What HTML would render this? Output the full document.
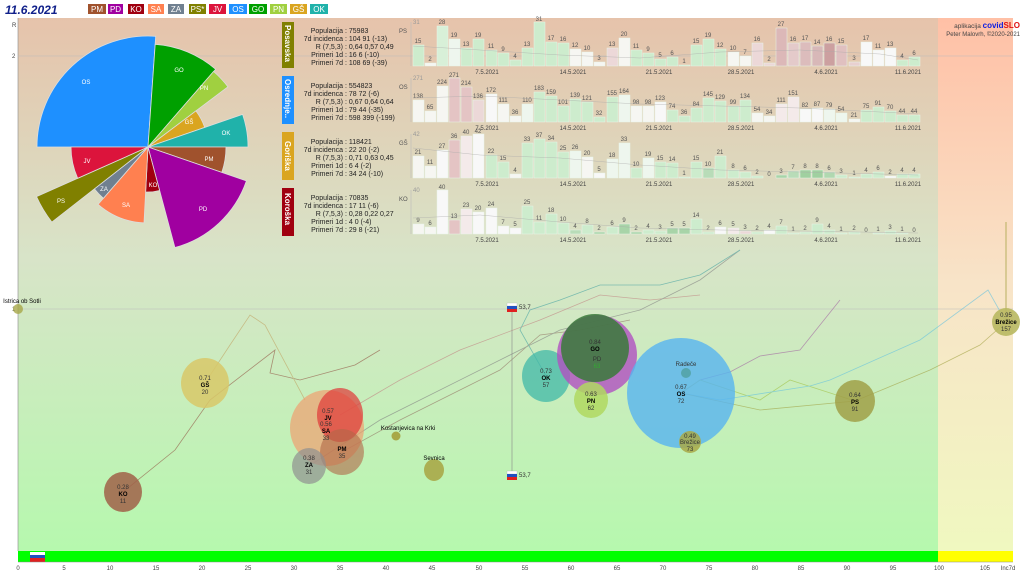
<!DOCTYPE html>
<html><head><meta charset="utf-8"><style>
html,body{margin:0;padding:0;background:#fff;}
svg{display:block;font-family:"Liberation Sans",sans-serif;}
.st{font-size:7px;fill:#222;}
.bl{font-size:6px;fill:#555;text-anchor:middle;}
.dt{font-size:6px;fill:#444;text-anchor:middle;}
.g rect{fill:#cdeccd;stroke:#e8f4e8;stroke-width:.5}
.lb{font-size:6px;fill:#333;text-anchor:middle;}
.ax{font-size:6px;fill:#444;text-anchor:middle;}
</style></head><body>
<svg width="1024" height="576" viewBox="0 0 1024 576" xmlns="http://www.w3.org/2000/svg">
<defs>
<linearGradient id="bg" x1="0" y1="0" x2="0" y2="1">
<stop offset="0" stop-color="#e6c3ab"/><stop offset="0.45" stop-color="#d8e4c8"/><stop offset="1" stop-color="#b6f8ae"/></linearGradient>
<linearGradient id="bgr" x1="0" y1="0" x2="0" y2="1">
<stop offset="0" stop-color="#ffc0a6"/><stop offset="0.5" stop-color="#f8e4c8"/><stop offset="1" stop-color="#f0f8c0"/></linearGradient>
</defs>
<rect x="0" y="0" width="1024" height="576" fill="#fff"/>
<rect x="18" y="18" width="920" height="533" fill="url(#bg)"/>
<rect x="938" y="18" width="75" height="533" fill="url(#bgr)"/>
<line x1="18" y1="18" x2="18" y2="551" stroke="#888" stroke-width=".6"/>
<line x1="18" y1="56" x2="1013" y2="56" stroke="#bbb" stroke-width=".5"/>
<line x1="18" y1="309" x2="1013" y2="309" stroke="#bbb" stroke-width=".6"/>
<text x="12" y="27" font-size="6" fill="#444">R</text>
<text x="12" y="58" font-size="6" fill="#444">2</text>
<text x="12" y="311" font-size="6" fill="#444">1</text>

<!-- header -->
<text x="5" y="14" font-size="12" font-weight="bold" font-style="italic" fill="#10208a">11.6.2021</text>
<g font-size="8" fill="#fff" text-anchor="middle">
<rect x="88" y="4" width="18" height="10" fill="#a0522d"/><text x="97" y="12">PM</text>
<rect x="108" y="4" width="15" height="10" fill="#a000a0"/><text x="115.5" y="12">PD</text>
<rect x="128" y="4" width="16" height="10" fill="#a00010"/><text x="136" y="12">KO</text>
<rect x="148" y="4" width="16" height="10" fill="#ff8050"/><text x="156" y="12">SA</text>
<rect x="168" y="4" width="16" height="10" fill="#708090"/><text x="176" y="12">ZA</text>
<rect x="189" y="4" width="17" height="10" fill="#808000"/><text x="197.5" y="12">PS*</text>
<rect x="209" y="4" width="17" height="10" fill="#dc143c"/><text x="217.5" y="12">JV</text>
<rect x="229" y="4" width="18" height="10" fill="#1e90ff"/><text x="238" y="12">OS</text>
<rect x="249" y="4" width="18" height="10" fill="#00a000"/><text x="258" y="12">GO</text>
<rect x="270" y="4" width="17" height="10" fill="#a0d040"/><text x="278.5" y="12">PN</text>
<rect x="290" y="4" width="17" height="10" fill="#daa520"/><text x="298.5" y="12">GŠ</text>
<rect x="310" y="4" width="18" height="10" fill="#20b2aa"/><text x="319" y="12">OK</text>
</g>

<!-- pie -->
<g stroke="#ddd" stroke-width=".8">
<path d="M148,147 L37,147 A111,111 0 0 1 155.7,36.3 Z" fill="#1e90ff"/>
<path d="M148,147 L155.2,44.3 A103,103 0 0 1 215.6,69.2 Z" fill="#00a000"/>
<path d="M148,147 L213.6,71.5 A100,100 0 0 1 227.9,86.8 Z" fill="#a0d040"/>
<path d="M148,147 L195.9,110.9 A60,60 0 0 1 204.7,127.4 Z" fill="#daa520"/>
<path d="M148,147 L242.6,114.4 A100,100 0 0 1 248,147 Z" fill="#20b2aa"/>
<path d="M148,147 L226,147 A78,78 0 0 1 221.8,172.4 Z" fill="#a0522d"/>
<path d="M148,147 L246.4,180.9 A104,104 0 0 1 174.9,247.5 Z" fill="#a000a0"/>
<path d="M148,147 L159.6,190.5 A45,45 0 0 1 145.6,192 Z" fill="#a00010"/>
<path d="M148,147 L144,222.9 A76,76 0 0 1 98.1,204.4 Z" fill="#ff8050"/>
<path d="M148,147 L103.4,198.3 A68,68 0 0 1 94.4,188.9 Z" fill="#708090"/>
<path d="M148,147 L51.9,222.1 A122,122 0 0 1 36.5,196.6 Z" fill="#808000"/>
<path d="M148,147 L77.7,178.3 A77,77 0 0 1 71,147 Z" fill="#dc143c"/>
</g>
<g font-size="6" fill="#fff" text-anchor="middle">
<text x="86" y="84">OS</text><text x="179" y="72">GO</text><text x="204" y="90">PN</text>
<text x="189" y="124">GŠ</text><text x="226" y="135">OK</text><text x="209" y="161">PM</text>
<text x="203" y="211">PD</text><text x="153" y="187">KO</text><text x="126" y="207">SA</text>
<text x="104" y="191">ZA</text><text x="61" y="203">PS</text><text x="87" y="163">JV</text>
</g>

<!-- region labels -->
<rect x="282" y="22" width="12" height="46" fill="#808000"/>
<rect x="282" y="76" width="12" height="48" fill="#1e90ff"/>
<rect x="282" y="132" width="12" height="48" fill="#daa520"/>
<rect x="282" y="188" width="12" height="48" fill="#a00010"/>
<g font-size="8" font-weight="bold" fill="#fff">
<text transform="translate(285,25) rotate(90)">Posavska</text>
<text transform="translate(285,79) rotate(90)">Osrednje..</text>
<text transform="translate(285,141) rotate(90)">Goriška</text>
<text transform="translate(285,193) rotate(90)">Koroška</text>
</g>
<g class="st">
<g text-anchor="end"><text x="343" y="33">Populacija</text><text x="343" y="41">7d incidenca</text><text x="343" y="49">R (7,5,3)</text><text x="343" y="57">Primeri 1d</text><text x="343" y="65">Primeri 7d</text></g>
<text x="345" y="33">: 75983</text><text x="345" y="41">: 104 91 (-13)</text><text x="345" y="49">: 0,64 0,57 0,49</text><text x="345" y="57">: 16 6 (-10)</text><text x="345" y="65">: 108 69 (-39)</text>
<g text-anchor="end"><text x="343" y="88">Populacija</text><text x="343" y="96">7d incidenca</text><text x="343" y="104">R (7,5,3)</text><text x="343" y="112">Primeri 1d</text><text x="343" y="120">Primeri 7d</text></g>
<text x="345" y="88">: 554823</text><text x="345" y="96">: 78 72 (-6)</text><text x="345" y="104">: 0,67 0,64 0,64</text><text x="345" y="112">: 79 44 (-35)</text><text x="345" y="120">: 598 399 (-199)</text>
<g text-anchor="end"><text x="343" y="144">Populacija</text><text x="343" y="152">7d incidenca</text><text x="343" y="160">R (7,5,3)</text><text x="343" y="168">Primeri 1d</text><text x="343" y="176">Primeri 7d</text></g>
<text x="345" y="144">: 118421</text><text x="345" y="152">: 22 20 (-2)</text><text x="345" y="160">: 0,71 0,63 0,45</text><text x="345" y="168">: 6 4 (-2)</text><text x="345" y="176">: 34 24 (-10)</text>
<g text-anchor="end"><text x="343" y="200">Populacija</text><text x="343" y="208">7d incidenca</text><text x="343" y="216">R (7,5,3)</text><text x="343" y="224">Primeri 1d</text><text x="343" y="232">Primeri 7d</text></g>
<text x="345" y="200">: 70835</text><text x="345" y="208">: 17 11 (-6)</text><text x="345" y="216">: 0,28 0,22 0,27</text><text x="345" y="224">: 4 0 (-4)</text><text x="345" y="232">: 29 8 (-21)</text>
</g>

<!-- bar charts -->
<g font-size="6" fill="#555"><text x="399" y="33">PS</text><text x="399" y="89">OS</text><text x="399" y="145">GŠ</text><text x="399" y="201">KO</text>
<text x="413" y="24" fill="#999">31</text><text x="413" y="80" fill="#999">271</text><text x="413" y="136" fill="#999">42</text><text x="413" y="192" fill="#999">40</text></g>
<g stroke="#bbb" stroke-width=".6"><line x1="411" y1="22" x2="411" y2="66"/><line x1="411" y1="78" x2="411" y2="122"/><line x1="411" y1="134" x2="411" y2="178"/><line x1="411" y1="190" x2="411" y2="234"/></g>
<g class="dt">
<text x="487" y="74">7.5.2021</text><text x="573" y="74">14.5.2021</text><text x="659" y="74">21.5.2021</text><text x="741" y="74">28.5.2021</text><text x="826" y="74">4.6.2021</text><text x="908" y="74">11.6.2021</text>
<text x="487" y="130">7.5.2021</text><text x="573" y="130">14.5.2021</text><text x="659" y="130">21.5.2021</text><text x="741" y="130">28.5.2021</text><text x="826" y="130">4.6.2021</text><text x="908" y="130">11.6.2021</text>
<text x="487" y="186">7.5.2021</text><text x="573" y="186">14.5.2021</text><text x="659" y="186">21.5.2021</text><text x="741" y="186">28.5.2021</text><text x="826" y="186">4.6.2021</text><text x="908" y="186">11.6.2021</text>
<text x="487" y="242">7.5.2021</text><text x="573" y="242">14.5.2021</text><text x="659" y="242">21.5.2021</text><text x="741" y="242">28.5.2021</text><text x="826" y="242">4.6.2021</text><text x="908" y="242">11.6.2021</text>
</g>
<!-- PS row baseline 66 -->
<g class="g">
<rect x="413" y="45" width="11" height="21"/><rect x="425" y="63" width="11" height="3" style="fill:#f6f6f2"/><rect x="437" y="26" width="11" height="40" style="fill:#d8f0d8"/><rect x="449" y="39" width="11" height="27" style="fill:#eef6ee"/><rect x="461" y="48" width="11" height="18"/><rect x="473" y="39" width="11" height="27"/><rect x="486" y="50" width="11" height="16"/><rect x="498" y="53" width="11" height="13"/><rect x="510" y="60" width="11" height="6"/><rect x="522" y="48" width="11" height="18"/><rect x="534" y="22" width="11" height="44"/><rect x="546" y="42" width="11" height="24"/><rect x="558" y="43" width="11" height="23"/><rect x="570" y="49" width="11" height="17" style="fill:#f6f6f2"/><rect x="582" y="52" width="11" height="14" style="fill:#f6f6f2"/><rect x="594" y="62" width="11" height="4" style="fill:#f6f6f2"/><rect x="607" y="48" width="11" height="18" style="fill:#ecd8d8"/><rect x="619" y="38" width="11" height="28" style="fill:#f6f6f2"/><rect x="631" y="50" width="11" height="16"/><rect x="643" y="53" width="11" height="13"/><rect x="655" y="59" width="11" height="7"/><rect x="667" y="57" width="11" height="9"/><rect x="679" y="65" width="11" height="1"/><rect x="691" y="45" width="11" height="21"/><rect x="703" y="39" width="11" height="27"/><rect x="715" y="49" width="11" height="17"/><rect x="728" y="52" width="11" height="14" style="fill:#f6f6f2"/><rect x="740" y="56" width="11" height="10" style="fill:#f6f6f2"/><rect x="752" y="43" width="11" height="23" style="fill:#ecd8d8"/><rect x="764" y="63" width="11" height="3" style="fill:#ecd8d8"/><rect x="776" y="28" width="11" height="38" style="fill:#dcb8b8"/><rect x="788" y="43" width="11" height="23" style="fill:#e4caca"/><rect x="800" y="42" width="11" height="24" style="fill:#dcbcbc"/><rect x="812" y="46" width="11" height="20" style="fill:#d8b8b8"/><rect x="824" y="43" width="11" height="23" style="fill:#cca0a0"/><rect x="836" y="45" width="11" height="21" style="fill:#e0c0c0"/><rect x="849" y="62" width="11" height="4" style="fill:#e8d0d0"/><rect x="861" y="42" width="11" height="24" style="fill:#f8f8f8"/><rect x="873" y="50" width="11" height="16" style="fill:#f8f8f8"/><rect x="885" y="48" width="11" height="18" style="fill:#f8f8f8"/><rect x="897" y="60" width="11" height="6"/><rect x="909" y="57" width="11" height="9"/>
</g>
<g class="bl">
<text x="418" y="43">15</text><text x="430" y="61">2</text><text x="442" y="24">28</text><text x="454" y="37">19</text><text x="466" y="46">13</text><text x="478" y="37">19</text><text x="491" y="48">11</text><text x="503" y="51">9</text><text x="515" y="58">4</text><text x="527" y="46">13</text><text x="539" y="21">31</text><text x="551" y="40">17</text><text x="563" y="41">16</text><text x="575" y="47">12</text><text x="587" y="50">10</text><text x="599" y="60">3</text><text x="612" y="46">13</text><text x="624" y="36">20</text><text x="636" y="48">11</text><text x="648" y="51">9</text><text x="660" y="57">5</text><text x="672" y="55">6</text><text x="684" y="63">1</text><text x="696" y="43">15</text><text x="708" y="37">19</text><text x="720" y="47">12</text><text x="733" y="50">10</text><text x="745" y="54">7</text><text x="757" y="41">16</text><text x="769" y="61">2</text><text x="781" y="26">27</text><text x="793" y="41">16</text><text x="805" y="40">17</text><text x="817" y="44">14</text><text x="829" y="41">16</text><text x="841" y="43">15</text><text x="854" y="60">3</text><text x="866" y="40">17</text><text x="878" y="48">11</text><text x="890" y="46">13</text><text x="902" y="58">4</text><text x="914" y="55">6</text>
</g>
<!-- OS row baseline 122 -->
<g class="g">
<rect x="413" y="100" width="11" height="22" style="fill:#f6f6f2"/><rect x="425" y="111" width="11" height="11" style="fill:#f6f6f2"/><rect x="437" y="86" width="11" height="36" style="fill:#f6f6f2"/><rect x="449" y="78" width="11" height="44" style="fill:#e4c4c4"/><rect x="461" y="87" width="11" height="35" style="fill:#e4c4c4"/><rect x="473" y="100" width="11" height="22" style="fill:#ecd8d8"/><rect x="486" y="94" width="11" height="28" style="fill:#f8f8f8"/><rect x="498" y="104" width="11" height="18" style="fill:#f6f6f2"/><rect x="510" y="116" width="11" height="6" style="fill:#f6f6f2"/><rect x="522" y="104" width="11" height="18" style="fill:#eef6ee"/><rect x="534" y="92" width="11" height="30"/><rect x="546" y="96" width="11" height="26"/><rect x="558" y="106" width="11" height="16"/><rect x="570" y="99" width="11" height="23"/><rect x="582" y="102" width="11" height="20"/><rect x="594" y="117" width="11" height="5"/><rect x="607" y="97" width="11" height="25"/><rect x="619" y="95" width="11" height="27" style="fill:#eef6ee"/><rect x="631" y="106" width="11" height="16" style="fill:#f6f6f2"/><rect x="643" y="106" width="11" height="16" style="fill:#f6f6f2"/><rect x="655" y="102" width="11" height="20" style="fill:#f8f8f8"/><rect x="667" y="110" width="11" height="12"/><rect x="679" y="116" width="11" height="6"/><rect x="691" y="108" width="11" height="14"/><rect x="703" y="98" width="11" height="24"/><rect x="715" y="101" width="11" height="21"/><rect x="728" y="106" width="11" height="16"/><rect x="740" y="100" width="11" height="22"/><rect x="752" y="113" width="11" height="9" style="fill:#f6f6f2"/><rect x="764" y="116" width="11" height="6" style="fill:#f6f6f2"/><rect x="776" y="104" width="11" height="18" style="fill:#f4eaea"/><rect x="788" y="97" width="11" height="25" style="fill:#f4eaea"/><rect x="800" y="109" width="11" height="13" style="fill:#f8f8f8"/><rect x="812" y="108" width="11" height="14" style="fill:#f8f8f8"/><rect x="824" y="109" width="11" height="13" style="fill:#eef6ee"/><rect x="836" y="113" width="11" height="9" style="fill:#eef6ee"/><rect x="849" y="119" width="11" height="3" style="fill:#f6f6f2"/><rect x="861" y="110" width="11" height="12"/><rect x="873" y="107" width="11" height="15"/><rect x="885" y="111" width="11" height="11"/><rect x="897" y="115" width="11" height="7"/><rect x="909" y="115" width="11" height="7"/>
</g>
<g class="bl">
<text x="418" y="98">138</text><text x="430" y="109">65</text><text x="442" y="84">224</text><text x="454" y="77">271</text><text x="466" y="85">214</text><text x="478" y="98">136</text><text x="491" y="92">172</text><text x="503" y="102">111</text><text x="515" y="114">36</text><text x="527" y="102">110</text><text x="539" y="90">183</text><text x="551" y="94">159</text><text x="563" y="104">101</text><text x="575" y="97">139</text><text x="587" y="100">121</text><text x="599" y="115">32</text><text x="612" y="95">155</text><text x="624" y="93">164</text><text x="636" y="104">98</text><text x="648" y="104">98</text><text x="660" y="100">123</text><text x="672" y="108">74</text><text x="684" y="114">36</text><text x="696" y="106">84</text><text x="708" y="96">145</text><text x="720" y="99">129</text><text x="733" y="104">99</text><text x="745" y="98">134</text><text x="757" y="111">54</text><text x="769" y="114">34</text><text x="781" y="102">111</text><text x="793" y="95">151</text><text x="805" y="107">82</text><text x="817" y="106">87</text><text x="829" y="107">79</text><text x="841" y="111">54</text><text x="854" y="117">21</text><text x="866" y="108">75</text><text x="878" y="105">91</text><text x="890" y="109">70</text><text x="902" y="113">44</text><text x="914" y="113">44</text>
</g>
<!-- GS row baseline 178 -->
<g class="g">
<rect x="413" y="156" width="11" height="22" style="fill:#f6f6f2"/><rect x="425" y="166" width="11" height="12" style="fill:#f6f6f2"/><rect x="437" y="150" width="11" height="28" style="fill:#f8f8f8"/><rect x="449" y="140" width="11" height="38" style="fill:#e4c4c4"/><rect x="461" y="136" width="11" height="42" style="fill:#f4eaea"/><rect x="473" y="134" width="11" height="44" style="fill:#f8f8f8"/><rect x="486" y="155" width="11" height="23"/><rect x="498" y="162" width="11" height="16"/><rect x="510" y="174" width="11" height="4" style="fill:#f6f6f2"/><rect x="522" y="143" width="11" height="35"/><rect x="534" y="139" width="11" height="39"/><rect x="546" y="142" width="11" height="36"/><rect x="558" y="152" width="11" height="26"/><rect x="570" y="151" width="11" height="27" style="fill:#eef6ee"/><rect x="582" y="157" width="11" height="21" style="fill:#f6f6f2"/><rect x="594" y="173" width="11" height="5" style="fill:#f8f8f8"/><rect x="607" y="159" width="11" height="19" style="fill:#eef6ee"/><rect x="619" y="143" width="11" height="35" style="fill:#eef6ee"/><rect x="631" y="168" width="11" height="10"/><rect x="643" y="158" width="11" height="20" style="fill:#eef6ee"/><rect x="655" y="162" width="11" height="16"/><rect x="667" y="163" width="11" height="15"/><rect x="679" y="177" width="11" height="1"/><rect x="691" y="162" width="11" height="16"/><rect x="703" y="168" width="11" height="10" style="fill:#b8dcb8"/><rect x="715" y="156" width="11" height="22"/><rect x="728" y="170" width="11" height="8"/><rect x="740" y="172" width="11" height="6"/><rect x="752" y="176" width="11" height="2"/><rect x="764" y="178" width="11" height="0"/><rect x="776" y="175" width="11" height="3" style="fill:#a8d4a8"/><rect x="788" y="171" width="11" height="7" style="fill:#b8dcb8"/><rect x="800" y="170" width="11" height="8" style="fill:#a0d0a0"/><rect x="812" y="170" width="11" height="8" style="fill:#a0d0a0"/><rect x="824" y="172" width="11" height="6" style="fill:#b0d8b0"/><rect x="836" y="175" width="11" height="3"/><rect x="849" y="177" width="11" height="1"/><rect x="861" y="174" width="11" height="4"/><rect x="873" y="172" width="11" height="6"/><rect x="885" y="176" width="11" height="2" style="fill:#f8f8f8"/><rect x="897" y="174" width="11" height="4"/><rect x="909" y="174" width="11" height="4"/>
</g>
<g class="bl">
<text x="418" y="154">21</text><text x="430" y="164">11</text><text x="442" y="148">27</text><text x="454" y="138">36</text><text x="466" y="134">40</text><text x="478" y="133">42</text><text x="491" y="153">22</text><text x="503" y="160">15</text><text x="515" y="172">4</text><text x="527" y="141">33</text><text x="539" y="137">37</text><text x="551" y="140">34</text><text x="563" y="150">25</text><text x="575" y="149">26</text><text x="587" y="155">20</text><text x="599" y="171">5</text><text x="612" y="157">18</text><text x="624" y="141">33</text><text x="636" y="166">10</text><text x="648" y="156">19</text><text x="660" y="160">15</text><text x="672" y="161">14</text><text x="684" y="175">1</text><text x="696" y="160">15</text><text x="708" y="166">10</text><text x="720" y="154">21</text><text x="733" y="168">8</text><text x="745" y="170">6</text><text x="757" y="174">2</text><text x="769" y="176">0</text><text x="781" y="173">3</text><text x="793" y="169">7</text><text x="805" y="168">8</text><text x="817" y="168">8</text><text x="829" y="170">6</text><text x="841" y="173">3</text><text x="854" y="175">1</text><text x="866" y="172">4</text><text x="878" y="170">6</text><text x="890" y="174">2</text><text x="902" y="172">4</text><text x="914" y="172">4</text>
</g>
<!-- KO row baseline 234 -->
<g class="g">
<rect x="413" y="224" width="11" height="10" style="fill:#f6f6f2"/><rect x="425" y="227" width="11" height="7" style="fill:#f6f6f2"/><rect x="437" y="190" width="11" height="44" style="fill:#f8f8f8"/><rect x="449" y="220" width="11" height="14" style="fill:#e4c4c4"/><rect x="461" y="209" width="11" height="25" style="fill:#f4eaea"/><rect x="473" y="212" width="11" height="22" style="fill:#f8f8f8"/><rect x="486" y="208" width="11" height="26" style="fill:#f8f8f8"/><rect x="498" y="226" width="11" height="8" style="fill:#f8f8f8"/><rect x="510" y="228" width="11" height="6" style="fill:#f8f8f8"/><rect x="522" y="206" width="11" height="28"/><rect x="534" y="222" width="11" height="12"/><rect x="546" y="214" width="11" height="20"/><rect x="558" y="223" width="11" height="11"/><rect x="570" y="230" width="11" height="4" style="fill:#b8dcb8"/><rect x="582" y="225" width="11" height="9"/><rect x="594" y="232" width="11" height="2" style="fill:#a8d4a8"/><rect x="607" y="227" width="11" height="7"/><rect x="619" y="224" width="11" height="10" style="fill:#a8d4a8"/><rect x="631" y="232" width="11" height="2" style="fill:#a8d4a8"/><rect x="643" y="230" width="11" height="4"/><rect x="655" y="231" width="11" height="3"/><rect x="667" y="228" width="11" height="6" style="fill:#a8d4a8"/><rect x="679" y="228" width="11" height="6" style="fill:#a8d4a8"/><rect x="691" y="219" width="11" height="15"/><rect x="703" y="232" width="11" height="2"/><rect x="715" y="227" width="11" height="7" style="fill:#f8f8f8"/><rect x="728" y="228" width="11" height="6" style="fill:#f4eaea"/><rect x="740" y="231" width="11" height="3" style="fill:#ecd8d8"/><rect x="752" y="232" width="11" height="2"/><rect x="764" y="230" width="11" height="4" style="fill:#f8f8f8"/><rect x="776" y="226" width="11" height="8"/><rect x="788" y="233" width="11" height="1"/><rect x="800" y="232" width="11" height="2"/><rect x="812" y="224" width="11" height="10"/><rect x="824" y="230" width="11" height="4"/><rect x="836" y="233" width="11" height="1"/><rect x="849" y="232" width="11" height="2"/><rect x="861" y="234" width="11" height="0"/><rect x="873" y="233" width="11" height="1"/><rect x="885" y="231" width="11" height="3"/><rect x="897" y="233" width="11" height="1"/><rect x="909" y="234" width="11" height="0"/>
</g>
<g class="bl">
<text x="418" y="222">9</text><text x="430" y="225">6</text><text x="442" y="189">40</text><text x="454" y="218">13</text><text x="466" y="207">23</text><text x="478" y="210">20</text><text x="491" y="206">24</text><text x="503" y="224">7</text><text x="515" y="226">5</text><text x="527" y="204">25</text><text x="539" y="220">11</text><text x="551" y="212">18</text><text x="563" y="221">10</text><text x="575" y="228">4</text><text x="587" y="223">8</text><text x="599" y="230">2</text><text x="612" y="225">6</text><text x="624" y="222">9</text><text x="636" y="230">2</text><text x="648" y="228">4</text><text x="660" y="229">3</text><text x="672" y="226">5</text><text x="684" y="226">5</text><text x="696" y="217">14</text><text x="708" y="230">2</text><text x="720" y="225">6</text><text x="733" y="226">5</text><text x="745" y="229">3</text><text x="757" y="230">2</text><text x="769" y="228">4</text><text x="781" y="224">7</text><text x="793" y="231">1</text><text x="805" y="230">2</text><text x="817" y="222">9</text><text x="829" y="228">4</text><text x="841" y="231">1</text><text x="854" y="230">2</text><text x="866" y="232">0</text><text x="878" y="231">1</text><text x="890" y="229">3</text><text x="902" y="231">1</text><text x="914" y="232">0</text>
</g>
<g fill="none" stroke="#aaa" stroke-width=".5" opacity=".7">
<polyline points="413,46 480,50 560,55 640,58 720,52 800,50 880,54 918,60"/>
<polyline points="413,98 480,96 560,100 640,104 720,106 800,108 880,112 918,114"/>
<polyline points="413,148 480,155 560,158 640,165 720,170 800,172 880,174 918,175"/>
<polyline points="413,218 480,215 560,222 640,228 720,230 800,231 918,233"/>
</g>

<text x="1020" y="28" font-size="6.5" fill="#444" text-anchor="end">aplikacija <tspan fill="#1020e0" font-weight="bold" font-size="8">covid</tspan><tspan fill="#e01010" font-weight="bold" font-size="8">SLO</tspan></text>
<text x="1020" y="36" font-size="6" fill="#444" text-anchor="end">Peter Malovrh, ©2020-2021</text>

<!-- trajectories -->
<g fill="none" stroke-width=".8" opacity=".6">
<polyline points="123,492 175,450 210,400 275,350 270,373 300,380 355,365 380,350" stroke="#905040"/>
<polyline points="205,383 230,345 250,315 265,325 305,400" stroke="#c0a060"/>
<polyline points="340,415 400,380 460,350 540,320 600,295 650,300 700,295" stroke="#c08080"/>
<polyline points="342,452 400,420 470,385 500,370 540,335 580,330 630,320" stroke="#907060"/>
<polyline points="309,466 380,420 440,390 500,360 560,330 640,310 700,280 740,250" stroke="#808080"/>
<polyline points="546,376 520,330 530,310 560,300 600,285 660,285 700,275 740,250" stroke="#40a0a0"/>
<polyline points="681,393 700,380 730,372 760,356 800,350 840,300" stroke="#a060a0"/>
<polyline points="855,401 790,380 760,400 700,380 681,393" stroke="#a0c040"/>
<polyline points="681,393 720,400 810,386 830,380 920,340 988,290 1006,322" stroke="#60c0e0"/>
<polyline points="681,393 760,410 855,401 930,370 980,345 1006,322" stroke="#a0a040"/>
</g>
<line x1="1006" y1="222" x2="1006" y2="322" stroke="#b8b060" stroke-width="1"/>
<line x1="512" y1="307" x2="512" y2="475" stroke="#888" stroke-width=".6"/>

<!-- bubbles -->
<g>
<circle cx="18" cy="309" r="5" fill="#a8a848" opacity=".8"/>
<ellipse cx="123" cy="492" rx="19" ry="20" fill="#a06048" opacity=".85"/>
<ellipse cx="205" cy="383" rx="24" ry="25" fill="#d8c868" opacity=".85"/>
<ellipse cx="327" cy="428" rx="37" ry="38" fill="#f0a070" opacity=".7"/>
<ellipse cx="340" cy="415" rx="23" ry="27" fill="#e03838" opacity=".7"/>
<ellipse cx="342" cy="452" rx="22" ry="23" fill="#b06848" opacity=".6"/>
<ellipse cx="309" cy="466" rx="17" ry="18" fill="#909090" opacity=".7"/>
<circle cx="396" cy="436" r="4.5" fill="#a8a848"/>
<ellipse cx="434" cy="470" rx="10" ry="11" fill="#a8a848" opacity=".9"/>
<ellipse cx="546" cy="376" rx="24" ry="26" fill="#40b8a8" opacity=".75"/>
<ellipse cx="597" cy="355" rx="40" ry="40" fill="#b050c0" opacity=".8"/>
<ellipse cx="595" cy="348" rx="34" ry="34" fill="#3a7a3a" opacity=".85"/>
<ellipse cx="591" cy="400" rx="17" ry="18" fill="#b0d860" opacity=".85"/>
<ellipse cx="681" cy="393" rx="54" ry="55" fill="#58b4f0" opacity=".8"/>
<circle cx="686" cy="373" r="5" fill="#50a0a0" opacity=".8"/>
<ellipse cx="690" cy="442" rx="11" ry="11" fill="#a8a848" opacity=".85"/>
<ellipse cx="855" cy="401" rx="20" ry="21" fill="#a0a048" opacity=".85"/>
<circle cx="1006" cy="322" r="14" fill="#b8b860" opacity=".9"/>
</g>
<g class="lb">
<text x="123" y="489">0.28</text><text x="123" y="496" font-weight="bold" fill="#000">KO</text><text x="123" y="503">11</text>
<text x="205" y="380">0.71</text><text x="205" y="387" font-weight="bold" fill="#000">GŠ</text><text x="205" y="394">20</text>
<text x="328" y="413">0.57</text><text x="328" y="420" font-weight="bold" fill="#000">JV</text><text x="326" y="426">0.56</text><text x="326" y="433" font-weight="bold" fill="#000">SA</text><text x="326" y="440">33</text>
<text x="342" y="451" font-weight="bold" fill="#000">PM</text><text x="342" y="458">35</text>
<text x="309" y="460">0.38</text><text x="309" y="467" font-weight="bold" fill="#000">ZA</text><text x="309" y="474">31</text>
<text x="408" y="430" fill="#000">Kostanjevica na Krki</text>
<text x="434" y="460" fill="#000">Sevnica</text>
<text x="22" y="303" fill="#000">Istrica ob Sotli</text>
<text x="546" y="373">0.73</text><text x="546" y="380" font-weight="bold" fill="#000">OK</text><text x="546" y="387">57</text>
<text x="595" y="344">0.84</text><text x="595" y="351" font-weight="bold" fill="#000">GO</text><text x="597" y="361">PD</text><text x="597" y="368" fill="#3a3">63</text>
<text x="591" y="396">0.63</text><text x="591" y="403" font-weight="bold" fill="#000">PN</text><text x="591" y="410">62</text>
<text x="686" y="366">Radeče</text>
<text x="681" y="389">0.67</text><text x="681" y="396" font-weight="bold" fill="#000">OS</text><text x="681" y="403">72</text>
<text x="690" y="438">0.49</text><text x="690" y="444">Brežice</text><text x="690" y="451">73</text>
<text x="855" y="397">0.64</text><text x="855" y="404" font-weight="bold" fill="#000">PS</text><text x="855" y="411">91</text>
<text x="1006" y="317">0.95</text><text x="1006" y="324" font-weight="bold" fill="#000">Brežice</text><text x="1006" y="331">157</text>
</g>
<g>
<rect x="507" y="303" width="10" height="3" fill="#fff" stroke="#aaa" stroke-width=".3"/><rect x="507" y="306" width="10" height="3" fill="#2050c0"/><rect x="507" y="309" width="10" height="3" fill="#e02020"/>
<rect x="507" y="471" width="10" height="3" fill="#fff" stroke="#aaa" stroke-width=".3"/><rect x="507" y="474" width="10" height="3" fill="#2050c0"/><rect x="507" y="477" width="10" height="3" fill="#e02020"/>
<text x="519" y="309" font-size="6" fill="#333">53,7</text><text x="519" y="477" font-size="6" fill="#333">53,7</text>
</g>

<!-- bottom bar & axis -->
<rect x="18" y="551" width="920" height="11" fill="#00ff00"/>
<rect x="938" y="551" width="75" height="11" fill="#ffff00"/>
<rect x="30" y="552" width="15" height="3" fill="#fff"/><rect x="30" y="555" width="15" height="3" fill="#2050c0"/><rect x="30" y="558" width="15" height="4" fill="#e02020"/>
<line x1="18" y1="562" x2="1013" y2="562" stroke="#888" stroke-width=".5"/>
<g class="ax">
<text x="18" y="570">0</text><text x="64" y="570">5</text><text x="110" y="570">10</text><text x="156" y="570">15</text><text x="202" y="570">20</text><text x="248" y="570">25</text><text x="294" y="570">30</text><text x="340" y="570">35</text><text x="386" y="570">40</text><text x="432" y="570">45</text><text x="479" y="570">50</text><text x="525" y="570">55</text><text x="571" y="570">60</text><text x="617" y="570">65</text><text x="663" y="570">70</text><text x="709" y="570">75</text><text x="755" y="570">80</text><text x="801" y="570">85</text><text x="847" y="570">90</text><text x="893" y="570">95</text><text x="939" y="570">100</text><text x="985" y="570">105</text><text x="1008" y="570">Inc7d</text>
</g>
</svg>
</body></html>
